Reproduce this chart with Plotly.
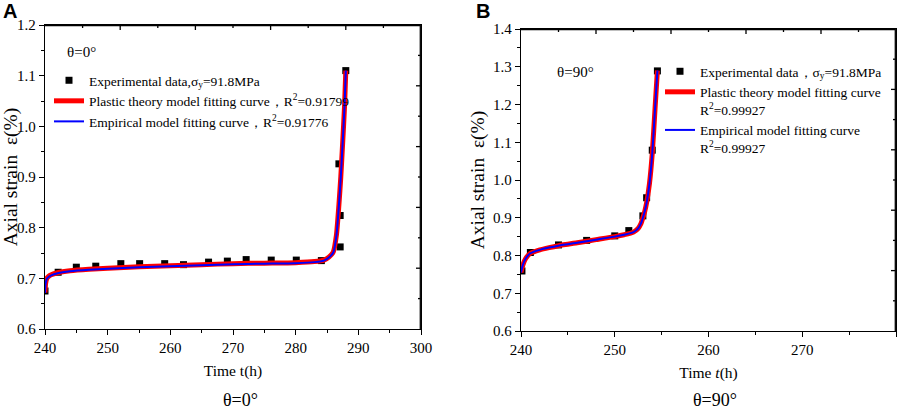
import plotly.graph_objects as go

# ---------------- Data: panel A (theta = 0 deg) ----------------
exp_a_t = [240.0, 242.1, 245.0, 248.1, 252.1, 255.1, 259.1, 262.1, 266.1, 269.1,
           272.1, 276.1, 280.1, 284.1, 287.1, 287.1, 286.9, 288.0]
exp_a_e = [0.675, 0.712, 0.722, 0.724, 0.729, 0.729, 0.729, 0.727, 0.732, 0.734,
           0.737, 0.736, 0.736, 0.735, 0.762, 0.824, 0.926, 1.110]

fit_a_t = [240.0, 240.1, 240.3, 240.6, 241.0, 242.0, 244.0, 247.0, 250.0, 255.0,
           260.0, 265.0, 270.0, 275.0, 280.0, 283.0, 284.5, 285.3, 286.0, 286.5,
           286.9, 287.2, 287.5, 287.8, 288.0]
plastic_a_e = [0.672, 0.690, 0.700, 0.704, 0.707, 0.711, 0.715, 0.718, 0.720, 0.723,
               0.725, 0.727, 0.729, 0.730, 0.731, 0.733, 0.736, 0.742, 0.752, 0.785,
               0.845, 0.900, 0.968, 1.040, 1.110]
empirical_a_e = [0.671, 0.689, 0.699, 0.703, 0.706, 0.710, 0.714, 0.717, 0.719, 0.722,
                 0.724, 0.726, 0.728, 0.729, 0.730, 0.732, 0.735, 0.741, 0.751, 0.784,
                 0.844, 0.900, 0.968, 1.040, 1.110]

# ---------------- Data: panel B (theta = 90 deg) ----------------
exp_b_t = [240.1, 241.0, 244.0, 247.0, 250.0, 251.5, 253.0, 253.4, 254.0, 254.55]
exp_b_e = [0.759, 0.808, 0.828, 0.840, 0.852, 0.866, 0.905, 0.953, 1.079, 1.289]

fit_b_t = [240.0, 240.2, 240.5, 241.0, 242.0, 243.0, 244.0, 246.0, 248.0, 250.0,
           251.0, 252.0, 252.5, 252.8, 253.0, 253.2, 253.4, 253.7, 254.0, 254.3, 254.55]
plastic_b_e = [0.755, 0.775, 0.792, 0.806, 0.815, 0.821, 0.826, 0.834, 0.842, 0.850,
               0.855, 0.862, 0.872, 0.885, 0.900, 0.917, 0.940, 0.990, 1.070, 1.190, 1.290]
empirical_b_e = [0.755, 0.775, 0.792, 0.806, 0.815, 0.821, 0.826, 0.834, 0.842, 0.850,
                 0.855, 0.862, 0.872, 0.885, 0.900, 0.917, 0.940, 0.990, 1.070, 1.190, 1.290]

# ---------------- Axis ranges / ticks ----------------
xa_range = [240, 300]
ya_range = [0.6, 1.2]
xb_range = [240, 280]
yb_range = [0.6, 1.4]
xa_ticks = [240, 250, 260, 270, 280, 290, 300]
ya_ticks = [0.6, 0.7, 0.8, 0.9, 1.0, 1.1, 1.2]
xb_ticks = [240, 250, 260, 270, 280]
yb_ticks = [0.6, 0.7, 0.8, 0.9, 1.0, 1.1, 1.2, 1.3, 1.4]
# top / right frame (Origin style: 10 equal divisions, inward ticks)
frame_major = [0.2, 0.4, 0.6, 0.8]
frame_minor = [0.1, 0.3, 0.5, 0.7, 0.9]

SERIF = "Liberation Serif, Times New Roman, serif"
SANS = "Liberation Sans, Arial, sans-serif"

# plot-area geometry (pixels)
W, H = 906, 410
A_box = (45, 421, 25, 329)   # left, right, top, bottom
B_box = (521, 896, 29, 331)

fig = go.Figure()

# Panel A traces
fig.add_trace(go.Scatter(x=exp_a_t, y=exp_a_e, mode="markers", xaxis="x", yaxis="y",
                         marker=dict(symbol="square", size=7, color="black"),
                         name="Experimental data,σ<sub>y</sub>=91.8MPa", legend="legend"))
fig.add_trace(go.Scatter(x=fit_a_t, y=plastic_a_e, mode="lines", xaxis="x", yaxis="y",
                         line=dict(color="#ff0000", width=5, shape="spline", smoothing=0.6),
                         name="Plastic theory model fitting curve，R<sup>2</sup>=0.91799", legend="legend"))
fig.add_trace(go.Scatter(x=fit_a_t, y=empirical_a_e, mode="lines", xaxis="x", yaxis="y",
                         line=dict(color="#0000ff", width=2, shape="spline", smoothing=0.6),
                         name="Empirical model fitting curve，R<sup>2</sup>=0.91776", legend="legend"))

# Panel B traces
fig.add_trace(go.Scatter(x=exp_b_t, y=exp_b_e, mode="markers", xaxis="x2", yaxis="y2",
                         marker=dict(symbol="square", size=7, color="black"),
                         name="Experimental data，σ<sub>y</sub>=91.8MPa", legend="legend2"))
fig.add_trace(go.Scatter(x=fit_b_t, y=plastic_b_e, mode="lines", xaxis="x2", yaxis="y2",
                         line=dict(color="#ff0000", width=5, shape="spline", smoothing=0.6),
                         name="Plastic theory model fitting curve<br>R<sup>2</sup>=0.99927", legend="legend2"))
fig.add_trace(go.Scatter(x=fit_b_t, y=empirical_b_e, mode="lines", xaxis="x2", yaxis="y2",
                         line=dict(color="#0000ff", width=2, shape="spline", smoothing=0.6),
                         name="Empirical model fitting curve<br>R<sup>2</sup>=0.99927", legend="legend2"))


def add_frame(xr, yr, box, xa, ya):
    """Top/right frame drawn just inside the plot area, with inward ticks."""
    left, right, top, bottom = box
    sx = (xr[1] - xr[0]) / (right - left)
    sy = (yr[1] - yr[0]) / (bottom - top)
    xe = xr[1] - 0.7 * sx
    ye = yr[1] - 0.7 * sy
    tx = [xr[0], xe, xe, None]
    ty = [ye, ye, yr[0], None]
    for vals, ln in ((frame_major, 5), (frame_minor, 3)):
        for f in vals:
            xv = xr[0] + f * (xr[1] - xr[0])
            tx += [xv, xv, None]
            ty += [ye, yr[1] - ln * sy, None]
            yv = yr[0] + f * (yr[1] - yr[0])
            tx += [xe, xr[1] - ln * sx, None]
            ty += [yv, yv, None]
    fig.add_trace(go.Scatter(x=tx, y=ty, mode="lines", xaxis=xa, yaxis=ya, showlegend=False,
                             hoverinfo="skip", line=dict(color="black", width=1.3)))


add_frame(xa_range, ya_range, A_box, "x", "y")
add_frame(xb_range, yb_range, B_box, "x2", "y2")

tickfont = dict(family=SERIF, size=15, color="black")

def main_axis(rng, vals, dt_minor, fmt, domain, anchor, title, tsize, standoff):
    return dict(range=rng, tickvals=vals, ticktext=[fmt.format(v) for v in vals],
                domain=domain, anchor=anchor, showgrid=False, zeroline=False,
                showline=True, mirror=True, linecolor="black", linewidth=1.3,
                ticks="outside", ticklen=5, tickwidth=1.2, tickcolor="black",
                minor=dict(ticks="outside", ticklen=3, tickwidth=1.2, tickcolor="black",
                           dtick=dt_minor, showgrid=False),
                tickfont=tickfont, automargin=False, fixedrange=True,
                title=dict(text=title, font=dict(family=SERIF, size=tsize, color="black"),
                           standoff=standoff))

dom_xa = [A_box[0] / W, A_box[1] / W]
dom_ya = [1 - A_box[3] / H, 1 - A_box[2] / H]
dom_xb = [B_box[0] / W, B_box[1] / W]
dom_yb = [1 - B_box[3] / H, 1 - B_box[2] / H]

ytitle = "Axial strain&nbsp;&nbsp;ε(%)"

def leg(x_px, top_px):
    return dict(x=x_px / W, y=1 - top_px / H, xanchor="left", yanchor="top",
                valign="top", bgcolor="rgba(0,0,0,0)",
                font=dict(family=SERIF, size=13.5, color="black"),
                tracegroupgap=0, itemwidth=30)

def txt(text, x_px, y_px, size, xanchor="left", family=SERIF):
    return dict(text=text, x=x_px / W, y=1 - y_px / H, xref="paper", yref="paper",
                xanchor=xanchor, yanchor="middle", showarrow=False,
                font=dict(family=family, size=size, color="black"))

fig.update_layout(
    width=W, height=H, margin=dict(l=0, r=0, t=0, b=0),
    paper_bgcolor="white", plot_bgcolor="white",
    font=dict(family=SERIF, color="black"),
    xaxis=main_axis(xa_range, xa_ticks, 5, "{:.0f}", dom_xa, "y", "Time t(h)", 15.5, 9),
    yaxis=main_axis(ya_range, ya_ticks, 0.05, "{:.1f}", dom_ya, "x", ytitle, 19.5, 3),
    xaxis2=main_axis(xb_range, xb_ticks, 5, "{:.0f}", dom_xb, "y2", "Time <i>t</i>(h)", 15.5, 9),
    yaxis2=main_axis(yb_range, yb_ticks, 0.05, "{:.1f}", dom_yb, "x2", ytitle, 19.5, 3),
    legend=leg(49, 65),
    legend2=leg(660, 56),
    annotations=[
        txt("<b>A</b>", 1, 11, 20, family=SANS),
        txt("<b>B</b>", 474, 11, 20, family=SANS),
        txt("θ=0°", 65, 52, 15),
        txt("θ=90°", 555, 72, 15),
        txt("θ=0°", 240, 400, 18, "center"),
        txt("θ=90°", 715, 400, 18, "center"),
    ],
)

fig.write_html("out.html", config={"displayModeBar": False},
               post_script="document.body.style.margin='0px';")
